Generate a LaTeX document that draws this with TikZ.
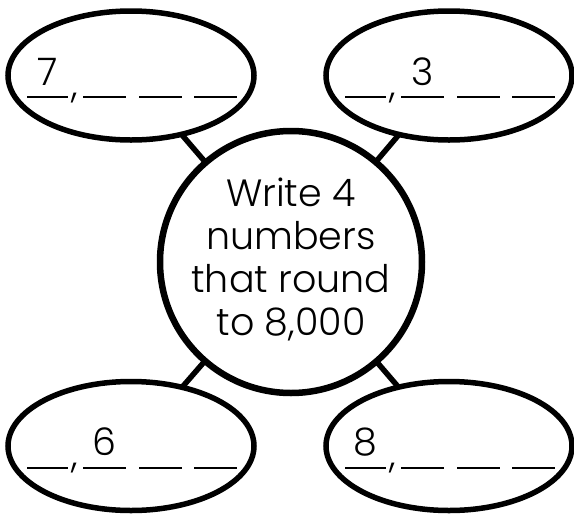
\documentclass[tikz,border=0pt]{standalone}
\usepackage{fontspec}
\setmainfont{Poppins}[UprightFont=* Light]
\usetikzlibrary{calc, shapes.geometric}
\tikzset{every picture/.style={line width=0.75pt}}
\tikzset{
  bubble/.style={draw, ellipse, line width=5.5pt, fill=white, minimum width=246pt, minimum height=129pt, inner sep=0pt},
  hub/.style={draw, circle, line width=6.5pt, fill=white, minimum size=262pt, inner sep=0pt},
  spoke/.style={line width=5.5pt, shorten <=-3pt, shorten >=-3pt},
  blank/.style={line width=2pt},
  bigtext/.style={font=\fontsize{38}{43}\selectfont, inner sep=0pt}
}
% four blanks with a comma, one digit given
\newcommand{\blanks}[3]{%
  \foreach \a/\b in {-104/-63,-48/-5,8/51,63/106}
    \draw[blank] ($(#1)+(\a,21.5)$) -- ($(#1)+(\b,21.5)$);
  \node[bigtext, anchor=base] at ($(#1)+(-56,21.5)$) {,};
  \node[bigtext, anchor=base] at ($(#1)+(#3,9.5)$) {#2};
}

\begin{document}
\begin{tikzpicture}[x=1pt,y=-1pt]
\useasboundingbox (0,0) rectangle (574,515);
\node[hub] (hub) at (291,262) {};
\node[bubble] (nw) at (131,75.5) {};
\node[bubble] (ne) at (449,75.5) {};
\node[bubble] (sw) at (131,446) {};
\node[bubble] (se) at (449,446) {};
\draw[spoke] (hub) -- (nw);
\draw[spoke] (hub) -- (ne);
\draw[spoke] (hub) -- (sw);
\draw[spoke] (hub) -- (se);
\node[bigtext, align=center] (task) at (291,259) {Write 4\\numbers\\that round\\to 8,000};
\blanks{nw}{7}{-83.5}
\blanks{ne}{3}{-26.5}
\blanks{sw}{6}{-26.5}
\blanks{se}{8}{-83.5}
\end{tikzpicture}
\end{document}
